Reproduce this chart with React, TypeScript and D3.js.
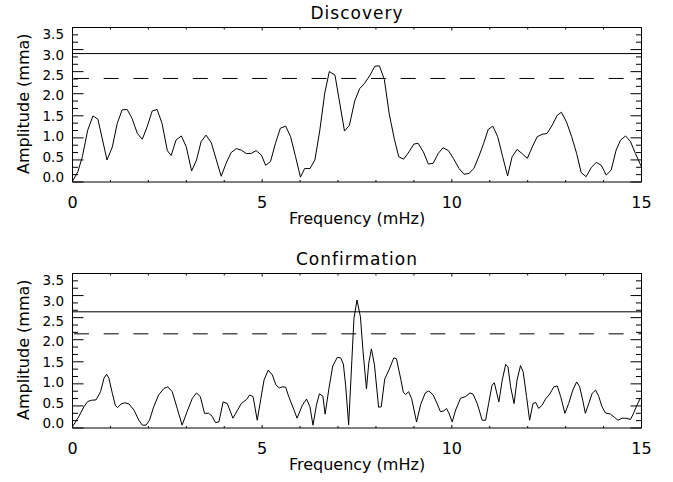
import React from "react";
import * as d3 from "d3";

// Discovery run: frequency (mHz) and amplitude (mma)
const discoveryFreq = [
  0.0, 0.14, 0.26, 0.4, 0.54, 0.67, 0.91, 1.05, 1.18, 1.31, 1.44, 1.57, 1.71, 1.84, 1.97,
  2.1, 2.23, 2.36, 2.5, 2.6, 2.73, 2.87, 3.0, 3.14, 3.27, 3.39, 3.52, 3.66, 3.92, 4.05,
  4.18, 4.32, 4.45, 4.58, 4.71, 4.84, 4.98, 5.09, 5.22, 5.35, 5.48, 5.62, 5.75, 5.88,
  6.01, 6.12, 6.26, 6.39, 6.52, 6.65, 6.77, 6.92, 7.17, 7.3, 7.44, 7.57, 7.69, 7.83,
  7.97, 8.09, 8.22, 8.35, 8.48, 8.6, 8.73, 8.87, 9.0, 9.11, 9.25, 9.38, 9.51, 9.64,
  9.77, 9.91, 10.04, 10.19, 10.32, 10.45, 10.58, 10.71, 10.84, 10.96, 11.08, 11.21,
  11.34, 11.47, 11.59, 11.72, 11.86, 11.99, 12.12, 12.25, 12.38, 12.51, 12.65, 12.78,
  12.89, 13.02, 13.16, 13.29, 13.41, 13.54, 13.68, 13.81, 13.94, 14.07, 14.2, 14.33,
  14.45, 14.58, 14.71, 14.84, 15.0,
];
const discoveryAmp = [
  -0.1, 0.13, 0.5, 1.15, 1.5, 1.42, 0.42, 0.74, 1.32, 1.65, 1.66, 1.44, 1.07, 0.93, 1.24,
  1.62, 1.66, 1.32, 0.65, 0.53, 0.91, 1.01, 0.74, 0.15, 0.42, 0.87, 1.03, 0.84, 0.02, 0.34,
  0.6, 0.7, 0.66, 0.58, 0.58, 0.65, 0.54, 0.29, 0.38, 0.83, 1.2, 1.25, 0.99, 0.5,
  0.0, 0.21, 0.21, 0.42, 1.15, 2.06, 2.59, 2.5, 1.13, 1.27, 1.87, 2.17, 2.29, 2.48,
  2.72, 2.73, 2.4, 1.55, 0.95, 0.5, 0.44, 0.62, 0.81, 0.83, 0.62, 0.32, 0.34, 0.58,
  0.72, 0.65, 0.46, 0.21, 0.07, 0.09, 0.21, 0.5, 0.83, 1.17, 1.25, 0.99,
  0.5, 0.03, 0.5, 0.68, 0.57, 0.46, 0.74, 0.99, 1.05, 1.07, 1.28, 1.52,
  1.59, 1.36, 0.99, 0.58, 0.11, 0.01, 0.24, 0.36, 0.29, 0.05, 0.17, 0.66,
  0.91, 1.01, 0.87, 0.58, 0.25,
];

// Confirmation run: frequency (mHz) and amplitude (mma)
const confirmationFreq = [
  0.0, 0.16, 0.3, 0.4, 0.5, 0.62, 0.74, 0.83, 0.9, 0.96, 1.05, 1.13, 1.19, 1.28, 1.38,
  1.49, 1.62, 1.75, 1.84, 1.94, 2.03, 2.14, 2.27, 2.41, 2.51, 2.63, 2.76, 2.89, 3.02,
  3.16, 3.27, 3.37, 3.48, 3.59, 3.68, 3.77, 3.86, 3.97, 4.08, 4.23, 4.34, 4.45, 4.59,
  4.67, 4.76, 4.87, 4.96, 5.05, 5.16, 5.27, 5.36, 5.45, 5.53, 5.62, 5.7, 5.84, 5.92,
  6.06, 6.17, 6.26, 6.34, 6.43, 6.51, 6.6, 6.66, 6.76, 6.86, 6.98, 7.07, 7.14, 7.2,
  7.28, 7.42, 7.5, 7.59, 7.66, 7.75, 7.81, 7.88, 7.96, 8.07, 8.14, 8.23, 8.34, 8.47,
  8.54, 8.66, 8.72, 8.78, 8.86, 8.94, 9.07, 9.18, 9.3, 9.39, 9.51, 9.61, 9.7, 9.79,
  9.86, 9.92, 10.01, 10.1, 10.23, 10.36, 10.48, 10.56, 10.67, 10.8, 10.89, 10.97,
  11.06, 11.12, 11.24, 11.33, 11.42, 11.48, 11.55, 11.64, 11.72, 11.81, 11.88, 11.97,
  12.05, 12.14, 12.21, 12.29, 12.38, 12.47, 12.58, 12.69, 12.78, 12.87, 12.98, 13.08,
  13.19, 13.29, 13.37, 13.46, 13.52, 13.61, 13.7, 13.79, 13.87, 13.96, 14.05, 14.18,
  14.29, 14.38, 14.49, 14.59, 14.71, 14.79, 14.88, 14.97,
];
const confirmationAmp = [
  -0.09, 0.15, 0.4, 0.53, 0.56, 0.57, 0.77, 1.1, 1.2, 1.1, 0.73, 0.43, 0.38, 0.47, 0.5,
  0.47, 0.32, 0.07, -0.05, -0.05, 0.07, 0.4, 0.69, 0.85, 0.89, 0.77, 0.36, -0.05, 0.28,
  0.61, 0.74, 0.65, 0.24, 0.24, 0.17, 0.01, 0.03, 0.52, 0.48, 0.12, 0.3, 0.48, 0.58,
  0.69, 0.65, 0.07, 0.57, 1.06, 1.3, 1.18, 0.94, 0.86, 0.89, 0.88, 0.65, 0.32, 0.12,
  0.44, 0.59, 0.4, -0.05, 0.44, 0.72, 0.66, 0.22, 0.85, 1.4, 1.61, 1.6, 1.45, 0.93,
  -0.04, 2.57, 3.02, 2.61, 1.75, 0.84, 1.47, 1.82, 1.43, 0.39, 0.4, 1.08, 1.3, 1.6,
  1.58, 1.05, 0.76, 0.7, 0.77, 0.6, 0.03, 0.46, 0.74, 0.79, 0.69, 0.48, 0.28, 0.3,
  0.36, 0.25, 0.03, 0.32, 0.61, 0.65, 0.74, 0.71, 0.48, 0.07, 0.07, 0.48,
  0.93, 0.99, 0.52, 1.06, 1.44, 1.38, 0.89, 0.48, 1.06, 1.41, 1.26, 0.65,
  0.07, 0.48, 0.51, 0.36, 0.44, 0.59, 0.71, 0.89, 0.91, 0.65, 0.24, 0.48,
  0.81, 1.01, 0.89, 0.52, 0.24, 0.48, 0.73, 0.81, 0.66, 0.4, 0.25, 0.22,
  0.14, 0.07, 0.12, 0.12, 0.09, 0.24, 0.44, 0.61,
];

// Significance levels (mma): solid and dashed horizontal lines
const discoveryLevels = [3.03, 2.42];
const confirmationLevels = [2.73, 2.19];

const xTickValues = [0, 5, 10, 15];
const yTickLabels = [0.0, 0.5, 1.0, 1.5, 2.0, 2.5, 3.0, 3.5];

const FONT = "DejaVu Sans";
const X0 = 72.5;
const X1 = 641.5;
const PANEL_H = 154.5;
const Y_DOMAIN: [number, number] = [-0.12, 3.67];

type PanelProps = {
  title: string;
  top: number;
  freq: number[];
  amp: number[];
  levels: number[];
};

function Panel({ title, top, freq, amp, levels }: PanelProps) {
  const bottom = top + PANEL_H;
  const x = d3.scaleLinear().domain([0, 15]).range([X0, X1]);
  const y = d3.scaleLinear().domain(Y_DOMAIN).range([bottom, top]);

  const line = d3
    .line<number>()
    .x((_, i) => x(freq[i]))
    .y((d) => y(d));

  // y axis: 7 major intervals, 3 minor per interval
  const nMinor = 21;
  const yTickPos = d3.range(nMinor + 1).map((i) => Y_DOMAIN[0] + (i * (Y_DOMAIN[1] - Y_DOMAIN[0])) / nMinor);
  const xMinor = d3.range(0, 16, 1);

  const [solid, dashed] = levels;

  return (
    <g>
      <text
        x={(X0 + X1) / 2}
        y={top - 9}
        textAnchor="middle"
        fontFamily={FONT}
        fontSize={17}
        letterSpacing={1}
        fill="#000"
      >
        {title}
      </text>

      {/* significance levels */}
      <line x1={X0} x2={X1} y1={y(solid)} y2={y(solid)} stroke="#000" strokeWidth={1} />
      <line
        x1={X0 + 1.5}
        x2={X1}
        y1={y(dashed)}
        y2={y(dashed)}
        stroke="#000"
        strokeWidth={1}
        strokeDasharray="15 14.7"
      />

      {/* amplitude spectrum */}
      <path d={line(amp) || ""} fill="none" stroke="#000" strokeWidth={1} />

      {/* frame */}
      <line x1={X0} x2={X1} y1={top} y2={top} stroke="#000" strokeWidth={1} />
      <line x1={X0} x2={X1} y1={bottom} y2={bottom} stroke="#000" strokeWidth={1} />
      <line x1={X0} x2={X0} y1={top} y2={bottom} stroke="#000" strokeWidth={1} />
      <line x1={X1} x2={X1} y1={top} y2={bottom} stroke="#000" strokeWidth={1} />

      {/* y ticks on both sides */}
      {yTickPos.map((v, i) => {
        const len = i % 3 === 0 ? 11 : 5.5;
        const yy = y(v);
        return (
          <g key={`yt${i}`}>
            <line x1={X0} x2={X0 + len} y1={yy} y2={yy} stroke="#000" strokeWidth={1} />
            <line x1={X1} x2={X1 - len} y1={yy} y2={yy} stroke="#000" strokeWidth={1} />
          </g>
        );
      })}

      {/* x ticks top and bottom */}
      {xMinor.map((f) => {
        const len = f % 5 === 0 ? 3 : 2;
        const xx = x(f);
        return (
          <g key={`xt${f}`}>
            <line x1={xx} x2={xx} y1={bottom} y2={bottom - len} stroke="#000" strokeWidth={1} />
            <line x1={xx} x2={xx} y1={top} y2={top + len} stroke="#000" strokeWidth={1} />
          </g>
        );
      })}

      {/* y tick labels */}
      {yTickLabels.map((v) => (
        <text
          key={`yl${v}`}
          x={64}
          y={y(v)}
          dy="0.36em"
          textAnchor="end"
          fontFamily={FONT}
          fontSize={13.5}
          fill="#000"
        >
          {v.toFixed(1)}
        </text>
      ))}

      {/* x tick labels */}
      {xTickValues.map((f) => (
        <text
          key={`xl${f}`}
          x={x(f)}
          y={bottom + 25.5}
          textAnchor="middle"
          fontFamily={FONT}
          fontSize={16}
          fill="#000"
        >
          {f}
        </text>
      ))}

      <text
        x={(X0 + X1) / 2}
        y={bottom + 42}
        textAnchor="middle"
        fontFamily={FONT}
        fontSize={16}
        fill="#000"
      >
        Frequency (mHz)
      </text>

      <text
        transform={`translate(29,${(top + bottom) / 2 - 1}) rotate(-90)`}
        textAnchor="middle"
        fontFamily={FONT}
        fontSize={16}
        fill="#000"
      >
        Amplitude (mma)
      </text>
    </g>
  );
}

export default function App() {
  return (
    <svg
      width={673}
      height={482}
      style={{ position: "absolute", left: 0, top: 0, background: "#fff" }}
    >
      <rect x={0} y={0} width={673} height={482} fill="#fff" />
      <Panel title="Discovery" top={27.5} freq={discoveryFreq} amp={discoveryAmp} levels={discoveryLevels} />
      <Panel
        title="Confirmation"
        top={273.5}
        freq={confirmationFreq}
        amp={confirmationAmp}
        levels={confirmationLevels}
      />
    </svg>
  );
}
